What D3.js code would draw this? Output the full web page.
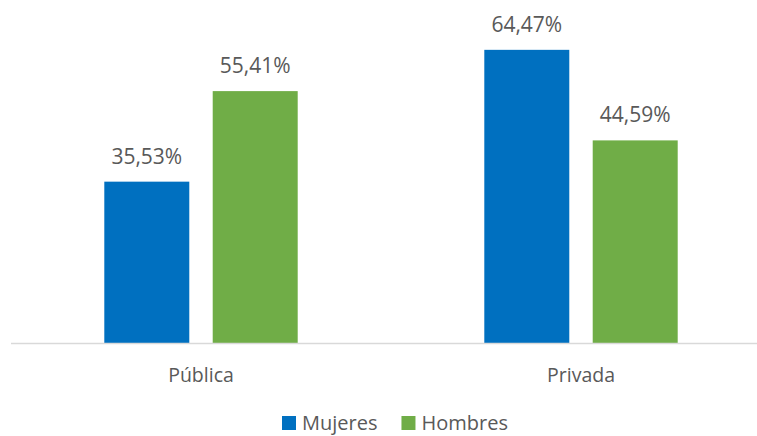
<!DOCTYPE html>
<html>
<head>
<meta charset="UTF-8">
<title>Pública / Privada</title>
<script src="https://cdn.jsdelivr.net/npm/d3@7"></script>
<style>
    body { margin: 0; background: #fff; }
    text { font-family: "Open Sans", sans-serif; fill: #595959; }
</style>
</head>
<body>
<div id="chart"></div>
<script>
    const categories = ["Pública", "Privada"];
    const seriesNames = ["Mujeres", "Hombres"];
    const mujeres = [35.53, 64.47];
    const hombres = [55.41, 44.59];
    const colors = ["#0070C0", "#70AD47"];

    const width = 757, height = 436;
    const baseY = 343.5;

    const svg = d3.select("#chart").append("svg")
        .attr("width", width)
        .attr("height", height);

    // category bands (plot area runs a bit past the right edge, like the source)
    const groupW = 193.4;
    const x0 = d3.scaleBand().domain(categories).range([11, 771]).paddingInner(0).paddingOuter(0);
    const x1 = d3.scaleBand().domain(seriesNames).range([0, groupW]).paddingInner(0.216).paddingOuter(0);
    const y = d3.scaleLinear().domain([0, 70]).range([baseY, baseY - 70 * 4.555]);

    const fmt = v => v.toFixed(2).replace(".", ",") + "%";

    const rows = [];
    categories.forEach((c, i) => {
        rows.push({cat: c, s: "Mujeres", v: mujeres[i]});
        rows.push({cat: c, s: "Hombres", v: hombres[i]});
    });

    const groupOffset = (x0.bandwidth() - groupW) / 2;

    svg.selectAll("rect.bar")
        .data(rows)
        .enter()
        .append("rect")
        .attr("class", "bar")
        .attr("x", d => x0(d.cat) + groupOffset + x1(d.s))
        .attr("y", d => y(d.v))
        .attr("width", x1.bandwidth())
        .attr("height", d => y(0) - y(d.v))
        .attr("fill", d => colors[seriesNames.indexOf(d.s)]);

    svg.selectAll("text.lbl")
        .data(rows)
        .enter()
        .append("text")
        .attr("class", "lbl")
        .attr("x", d => x0(d.cat) + groupOffset + x1(d.s) + x1.bandwidth() / 2)
        .attr("y", d => y(d.v) - 18)
        .attr("text-anchor", "middle")
        .style("font-size", "21px")
        .text(d => fmt(d.v));

    // baseline
    svg.append("line")
        .attr("x1", 11).attr("x2", width)
        .attr("y1", y(0)).attr("y2", y(0))
        .style("stroke", "#D9D9D9")
        .style("stroke-width", 1.5);

    const xAxis = svg.append("g")
        .attr("transform", "translate(0," + y(0) + ")")
        .call(d3.axisBottom(x0).tickSize(0).tickPadding(0));
    xAxis.select(".domain").remove();
    xAxis.selectAll("text")
        .attr("y", 38.5)
        .attr("dy", null)
        .style("font-family", "'Open Sans', sans-serif")
        .style("font-size", "19.5px")
        .style("fill", "#595959");

    // legend (kept just inside the bottom edge)
    const legend = svg.append("g").attr("transform", "translate(282,416)");
    let lx = 0;
    seriesNames.forEach((name, i) => {
        const g = legend.append("g").attr("transform", "translate(" + lx + ",0)");
        g.append("rect").attr("width", 14).attr("height", 14).attr("fill", colors[i]);
        const t = g.append("text")
            .attr("x", 20).attr("y", 13.5)
            .style("font-size", "20px")
            .text(name);
        lx += 20 + t.node().getComputedTextLength() + 24;
    });
</script>
</body>
</html>
